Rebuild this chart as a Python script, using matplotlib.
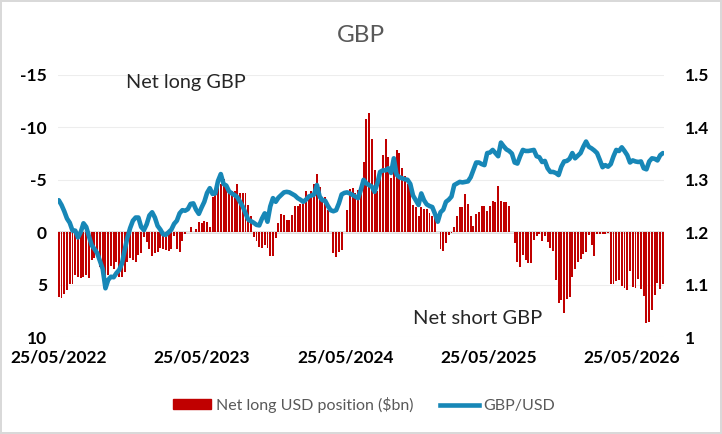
import numpy as np
import pandas as pd
import matplotlib.pyplot as plt
from matplotlib.patches import Patch
from matplotlib.lines import Line2D

plt.rcParams['font.family'] = ['Lato', 'DejaVu Sans']
plt.rcParams['axes.unicode_minus'] = False

# weekly positioning, $bn (positive = net long USD / net short GBP)
net_long_usd = [
    6.2, 6.3, 5.9, 5.5, 4.9, 4.9, 4.1, 4.3, 4.4, 4.3, 4.1, 4.4, 2.7, 2.5, 2.0, 3.3,
    3.6, 4.9, 4.1, 3.2, 3.5, 2.8, 4.3, 4.3, 3.8, 2.8, 2.5, 2.7, 2.8, 2.2, 2.0, 0.5,
    0.9, 1.6, 2.3, 2.0, 1.9, 1.5,
    1.6, 1.7, 1.8, 1.6, 0.4, 1.6, 1.9, 0.8, 0.2,
    0.0,
    -0.45, 0.0, -0.35, -0.95, -0.9, -1.1, -1.0, -0.5,
    -3.4, -4.1, -4.3, -4.6, -5.1, -4.3, -3.9, -3.9, -3.9, -4.6, -3.7, -3.7, -3.7, -2.6, -1.5,
    0.5, 0.8, 1.4, 1.5, 1.2, 1.5, 2.3, 2.3, 0.6,
    -0.9, -1.7, -1.6, -1.15, -1.2, -1.6, -2.5, -2.5, -2.7, -2.7, -3.9, -3.5, -3.9, -4.6,
    -5.6, -4.3, -3.4, -3.4, -2.1,
    0.0,
    2.0, 2.4, 1.9, 1.7,
    0.0,
    -2.1, -4.1, -4.2, -3.7, -4.0, -4.3, -6.7, -10.8, -11.4, -8.9, -5.9, -3.9, -5.7, -7.4,
    -8.9, -7.2, -5.2, -7.2, -7.8, -7.6, -6.1, -5.4, -4.6, -4.5, -2.6, -2.4, -1.5, -2.4,
    -2.2, -2.2, -1.8, -1.5, -1.5,
    0.0,
    1.6, 1.8, 1.0, 0.3, 0.1,
    -0.5, -1.5, -2.4, -2.4, -3.6, -2.7, -1.5, -0.6, -1.7,
    -1.9, -2.5, -2.5, -2.0, -2.5, -3.0, -2.9, -4.4, -3.0, -2.9, -2.9, -2.5,
    0.0,
    1.0, 2.8, 3.3, 2.2, 2.7, 2.9, 2.9, 0.7, 0.4, 0.2, 0.8, 0.4, 0.9, 1.5, 1.8, 4.6,
    6.8, 6.5, 7.7, 6.4, 6.2, 4.3, 3.5, 2.8, 2.6, 2.1, 1.9, 0.3, 1.2, 2.3, 0.2, 0.2,
    0.2, 0.2, 0.1, 4.9, 4.9, 4.7, 4.6, 5.1, 5.3, 5.5, 3.7, 5.2, 5.3, 4.5, 5.4, 6.1,
    8.7, 8.6, 7.4, 6.0, 4.8, 5.4, 4.9,
]

gbpusd = [
    1.261, 1.252, 1.240, 1.226, 1.218, 1.203, 1.203, 1.190, 1.200, 1.217, 1.210, 1.192,
    1.175, 1.168, 1.160, 1.145, 1.130, 1.093, 1.109, 1.115, 1.114, 1.122, 1.128, 1.140,
    1.166, 1.190, 1.208, 1.222, 1.228, 1.228, 1.210, 1.204, 1.215, 1.232, 1.238, 1.228,
    1.212, 1.205, 1.196, 1.195, 1.200, 1.205, 1.216, 1.222, 1.236, 1.242, 1.241, 1.244,
    1.254, 1.255, 1.243, 1.235, 1.247, 1.258, 1.275, 1.284, 1.273, 1.274, 1.298, 1.311,
    1.292, 1.289, 1.278, 1.274, 1.271, 1.267, 1.258, 1.249, 1.236, 1.224, 1.221, 1.218,
    1.214, 1.213, 1.226, 1.236, 1.220, 1.249, 1.265, 1.258, 1.266, 1.271, 1.276, 1.277,
    1.276, 1.273, 1.270, 1.265, 1.262, 1.258, 1.262, 1.268, 1.270, 1.272, 1.290, 1.268,
    1.261, 1.260, 1.250, 1.242, 1.240, 1.242, 1.255, 1.272, 1.275, 1.276, 1.274, 1.271,
    1.268, 1.265, 1.281, 1.300, 1.293, 1.290, 1.287, 1.277, 1.293, 1.315, 1.318, 1.318,
    1.322, 1.313, 1.341, 1.310, 1.305, 1.303, 1.301, 1.300, 1.292, 1.270, 1.261, 1.252,
    1.274, 1.261, 1.253, 1.250, 1.248, 1.235, 1.220, 1.238, 1.243, 1.258, 1.262, 1.268,
    1.290, 1.293, 1.296, 1.295, 1.296, 1.297, 1.305, 1.319, 1.333, 1.333, 1.330, 1.328,
    1.351, 1.352, 1.357, 1.351, 1.345, 1.371, 1.364, 1.358, 1.355, 1.350, 1.333, 1.331,
    1.345, 1.357, 1.355, 1.355, 1.356, 1.357, 1.345, 1.343, 1.334, 1.336, 1.322, 1.315,
    1.315, 1.313, 1.309, 1.325, 1.335, 1.336, 1.340, 1.351, 1.341, 1.346, 1.351, 1.363,
    1.373, 1.363, 1.360, 1.356, 1.351, 1.338, 1.324, 1.328, 1.325, 1.330, 1.345, 1.357,
    1.355, 1.362, 1.355, 1.347, 1.333, 1.337, 1.335, 1.334, 1.335, 1.322, 1.320, 1.335,
    1.341, 1.340, 1.337, 1.347, 1.351,
]

n = min(len(net_long_usd), len(gbpusd))
dates = pd.date_range('2022-05-25', periods=n, freq='7D')
tick_dates = pd.to_datetime(['2022-05-25', '2023-05-25', '2024-05-25', '2025-05-25', '2026-05-25'])
left_ticks = [-15, -10, -5, 0, 5, 10]
right_ticks = [1.0, 1.1, 1.2, 1.3, 1.4, 1.5]
right_labels = ['1', '1.1', '1.2', '1.3', '1.4', '1.5']

red = '#C00000'
blue = '#1787B7'
tick_font = dict(fontsize=12.5, fontweight='bold', color='black')

fig = plt.figure(figsize=(7.22, 4.34), dpi=100)
fig.patch.set_edgecolor('#D9D9D9')
fig.patch.set_linewidth(1.5)
ax = fig.add_axes([0.0803, 0.2235, 0.839, 0.6037])

ax.bar(dates, net_long_usd[:n], width=5, color=red, zorder=2)
ax.set_ylim(10, -15)
ax.set_yticks(left_ticks)
ax.set_yticklabels([str(t) for t in left_ticks], **tick_font)
ax.grid(axis='y', color='#EDEDED', lw=0.8, zorder=0)
ax.axhline(0, color='#D9D9D9', lw=2, zorder=1)
ax.set_xlim(dates[0] - pd.Timedelta(days=2), dates[-1] + pd.Timedelta(days=2))
ax.set_xticks(tick_dates)
ax.set_xticklabels([d.strftime('%d/%m/%Y') for d in tick_dates], **tick_font)

ax2 = ax.twinx()
ax2.plot(dates, gbpusd[:n], color=blue, lw=3.3, solid_capstyle='round', zorder=3)
ax2.set_ylim(1.0, 1.5)
ax2.set_yticks(right_ticks)
ax2.set_yticklabels(right_labels, **tick_font)

for a in (ax, ax2):
    for s in a.spines.values():
        s.set_visible(False)
    a.tick_params(length=0)
ax.tick_params(axis='y', pad=8)
ax.tick_params(axis='x', pad=9)
ax2.tick_params(axis='y', pad=15)

fig.text(0.5, 0.918, 'GBP', ha='center', va='center', fontsize=17.5, color='#595959')
fig.text(0.258, 0.811, 'Net long GBP', ha='center', va='center', fontsize=14.3, color='#262626')
fig.text(0.661, 0.267, 'Net short GBP', ha='center', va='center', fontsize=14.5, color='#262626')

handles = [Patch(color=red), Line2D([0], [0], color=blue, lw=3.3)]
fig.legend(handles, ['Net long USD position ($bn)', 'GBP/USD'], loc='center',
           bbox_to_anchor=(0.504, 0.067), ncol=2, frameon=False, fontsize=11.5,
           labelcolor='#595959', handlelength=2.4, handletextpad=0.3,
           columnspacing=1.7, handleheight=0.6)

fig.savefig('out.png', dpi=100)
